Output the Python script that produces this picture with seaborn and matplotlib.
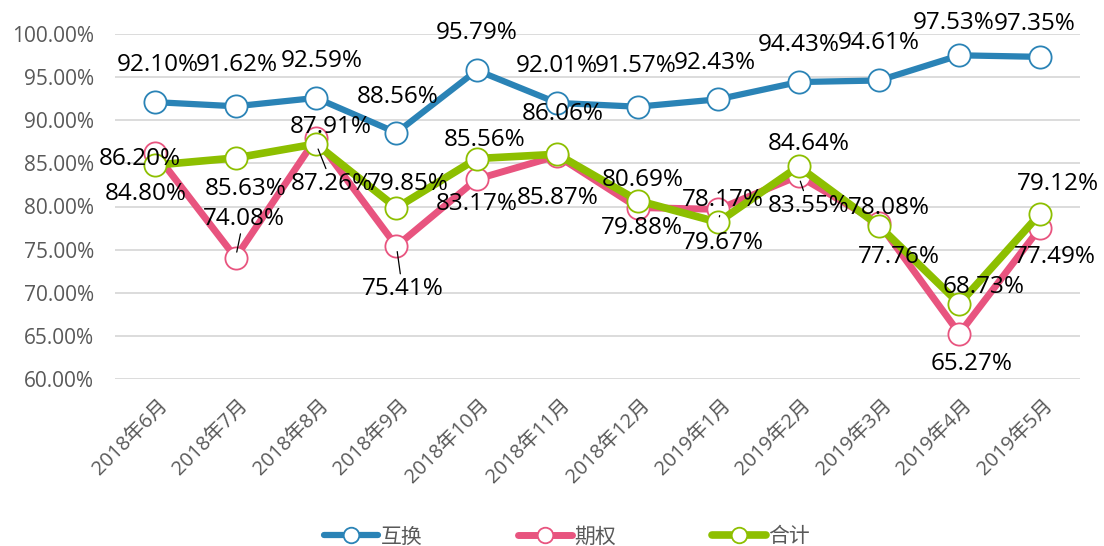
import numpy as np
import pandas as pd
import matplotlib
matplotlib.use('Agg')
import matplotlib.pyplot as plt
import matplotlib.transforms as mtransforms
import seaborn as sns

months = ['2018年6月', '2018年7月', '2018年8月', '2018年9月', '2018年10月', '2018年11月',
          '2018年12月', '2019年1月', '2019年2月', '2019年3月', '2019年4月', '2019年5月']
swap = [92.10, 91.62, 92.59, 88.56, 95.79, 92.01, 91.57, 92.43, 94.43, 94.61, 97.53, 97.35]
option = [86.20, 74.08, 87.91, 75.41, 83.17, 85.87, 79.88, 79.67, 83.55, 78.08, 65.27, 77.49]
total = [84.80, 85.63, 87.26, 79.85, 85.56, 86.06, 80.69, 78.17, 84.64, 77.76, 68.73, 79.12]
series_names = ['互换', '期权', '合计']

# label offsets in pixels (dx, dy up)
swap_off = [(3, 37), (1, 41), (6, 37), (1, 36), (0, 37), (0, 37),
            (-2, 41), (-3, 36), (0, 37), (0, 37), (-6, 32), (-5, 33)]
option_off = [(-15, -6), (8, 39), (15, 11), (6, -43), (0, -25), (0, -42),
              (4, -20), (5, -34), (10, -30), (10, 15), (12, -30), (15, -29)]
total_off = [(-9, -29), (10, -31), (16, -40), (11, 24), (8, 19), (5, 40),
             (5, 21), (5, 22), (10, 22), (20, -31), (24, 17), (18, 30)]
option_leader = [False, True, False, True, False, False, False, False, True, False, False, False]
total_leader = [False, False, True, False, False, False, False, True, False, False, False, False]

colors = ['#2A83B6', '#E8547F', '#8DBF00']

sns.set_theme(style='white')
plt.rcParams['font.family'] = ['Open Sans', 'Noto Sans CJK SC', 'DejaVu Sans']

fig = plt.figure(figsize=(11.04, 5.46), dpi=100)
ax = fig.add_axes([115 / 1104, 1 - 379 / 546, (1080 - 115) / 1104, (379 - 34) / 546])

x = np.arange(len(months))
data = [swap, option, total]
widths = [4.5, 5.0, 5.5]
for vals, col, name, lw in zip(data, colors, series_names, widths):
    sns.lineplot(x=x, y=vals, color=col, lw=lw, marker='o', markersize=16,
                 markerfacecolor='white', markeredgecolor=col, markeredgewidth=1.3,
                 label=name, ax=ax)

def put_labels(vals, offs, leaders=None):
    for i, v in enumerate(vals):
        dx, dy = offs[i]
        kw = {}
        if leaders is not None and leaders[i]:
            kw['arrowprops'] = dict(arrowstyle='-', color='black', lw=0.9,
                                    shrinkA=0, shrinkB=4)
        ax.annotate(f'{v:.2f}%', xy=(i, v), xytext=(dx, dy), textcoords='offset pixels',
                    ha='center', va='center', fontsize=17.5, color='black', **kw)

put_labels(swap, swap_off)
put_labels(option, option_off, option_leader)
put_labels(total, total_off, total_leader)

ax.set_xlim(-0.5, len(months) - 0.5)
ax.set_ylim(60, 100)
ax.set_yticks(np.arange(60, 100.1, 5))
ax.set_yticklabels([f'{t:.2f}%' for t in np.arange(60, 100.1, 5)], fontsize=15, color='#595959')
ax.set_xticks(x)
ax.set_xticklabels(months, rotation=45, ha='right', rotation_mode='anchor',
                   fontsize=14.5, color='#595959')
ax.tick_params(axis='y', length=0, pad=15)
ax.tick_params(axis='x', length=0, pad=12)
shift = mtransforms.ScaledTranslation(3 / 100, 0, fig.dpi_scale_trans)
for lab in ax.get_xticklabels():
    lab.set_transform(lab.get_transform() + shift)
ax.yaxis.grid(True, color='#D9D9D9', lw=1.3)
ax.set_axisbelow(True)
for s in ax.spines.values():
    s.set_visible(False)
ax.set_xlabel('')
ax.set_ylabel('')

handles, labels = ax.get_legend_handles_labels()
ax.get_legend().remove()
fig.legend(handles, labels, loc='center', bbox_to_anchor=(567 / 1104, 1 - 537 / 546),
           ncol=3, frameon=False, fontsize=15, handlelength=2.6, columnspacing=4.6,
           handletextpad=0.1, labelcolor='#595959', markerscale=0.7)

fig.savefig('out.png', dpi=100)
